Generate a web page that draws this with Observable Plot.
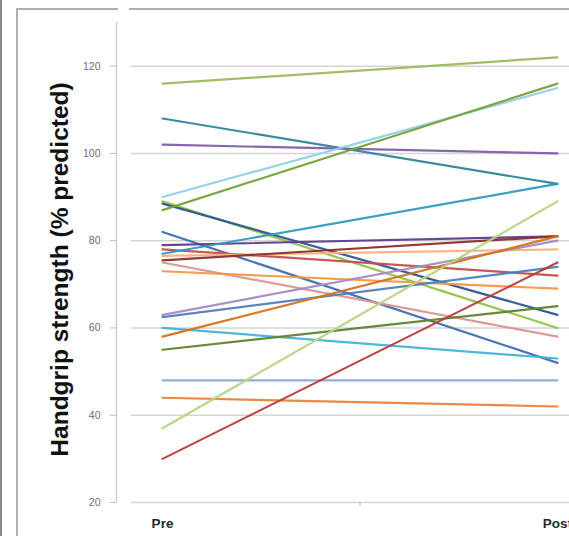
<!DOCTYPE html>
<html>
<head>
<meta charset="utf-8">
<script src="https://cdn.jsdelivr.net/npm/d3@7"></script>
<script src="https://cdn.jsdelivr.net/npm/@observablehq/plot@0.6"></script>
<style>
  html, body { margin: 0; padding: 0; background: #fff; }
  #wrap { position: relative; width: 569px; height: 536px; overflow: hidden; }
  #wrap svg { position: absolute; left: 0; top: 0; }
  .b { position: absolute; background: #9a9a9a; }
</style>
</head>
<body>
<div id="wrap">
  <div class="b" style="left:0;top:0;width:2px;height:536px;background:#8a8a8a"></div>
  <div class="b" style="left:16px;top:8px;width:2px;height:528px;background:#b0b0b0"></div>
  <div class="b" style="left:16px;top:8px;width:102px;height:2px;background:#b0b0b0"></div>
  <div class="b" style="left:129px;top:8px;width:440px;height:2px;background:#b0b0b0"></div>
</div>
<script>
const categories = ["Pre", "Post"];
const preValues  = [116, 108, 102, 90, 89, 88.5, 87, 82, 79, 78, 77, 76.5, 75.5, 75, 73, 63, 62.5, 60, 58, 55, 48, 44, 37, 30];
const postValues = [122, 93, 100, 115, 60, 63, 116, 52, 81, 72, 93, 78, 81, 58, 69, 80, 74, 53, 81, 65, 48, 42, 89, 75];
const seriesColors = ["#9BBB59", "#31849B", "#7F5FA8", "#8ED0E8", "#92C34A", "#2F5597", "#77A03A", "#3D6CB3",
  "#5F3C8A", "#C0504D", "#2E9BBE", "#FBB27E", "#8C2F2D", "#D99694", "#F79646", "#A08CC4",
  "#4F81BD", "#40B4D4", "#D5731E", "#5F8231", "#8FA8D8", "#E9823A", "#B5D67F", "#B83C3A"];
const yTicks = [20, 40, 60, 80, 100, 120];
const yTitle = "Handgrip strength (% predicted)";

const rows = [];
preValues.forEach((v, i) => {
  rows.push({id: i, cat: 0, value: v, color: seriesColors[i]});
  rows.push({id: i, cat: 1, value: postValues[i], color: seriesColors[i]});
});

const xAxisPos = -0.1165, gridStart = -0.0785, xEnd = 1.0304;

const chart = Plot.plot({
  width: 569,
  height: 536,
  marginLeft: 116,
  marginRight: 0,
  marginTop: 22,
  marginBottom: 34,
  style: {fontFamily: "Liberation Sans, Arial, sans-serif", background: "transparent", overflow: "visible"},
  x: {type: "linear", domain: [xAxisPos, xEnd], axis: null},
  y: {type: "linear", domain: [20, 130], axis: null},
  marks: [
    Plot.ruleY(yTicks, {y: d => d, x1: gridStart, x2: xEnd, stroke: "#d4d4d4", strokeWidth: 1.5}),
    Plot.ruleX([xAxisPos], {stroke: "#cfcfcf", strokeWidth: 1.5}),
    Plot.axisY({ticks: yTicks, label: null, tickSize: 6, tickPadding: 10, fontSize: 10.5, color: "#6e6e6e", stroke: "#bdbdbd"}),
    Plot.axisX({ticks: [0.5], label: null, tickSize: 4, tickFormat: () => "", stroke: "#bdbdbd"}),
    Plot.line(rows, {x: "cat", y: "value", z: "id", stroke: "color", strokeWidth: 2.2, strokeOpacity: 0.95}),
    Plot.text(categories, {x: (d, i) => i, frameAnchor: "bottom", dy: 25, text: d => d, fontWeight: "bold", fontSize: 13.5, fill: "#262626"}),
    Plot.text([yTitle], {text: d => d, frameAnchor: "left", textAnchor: "middle", rotate: -90, dx: -56, dy: 7, fontSize: 24.5, fontWeight: "bold", fill: "#111"})
  ]
});
document.getElementById("wrap").prepend(chart);
</script>
</body>
</html>
